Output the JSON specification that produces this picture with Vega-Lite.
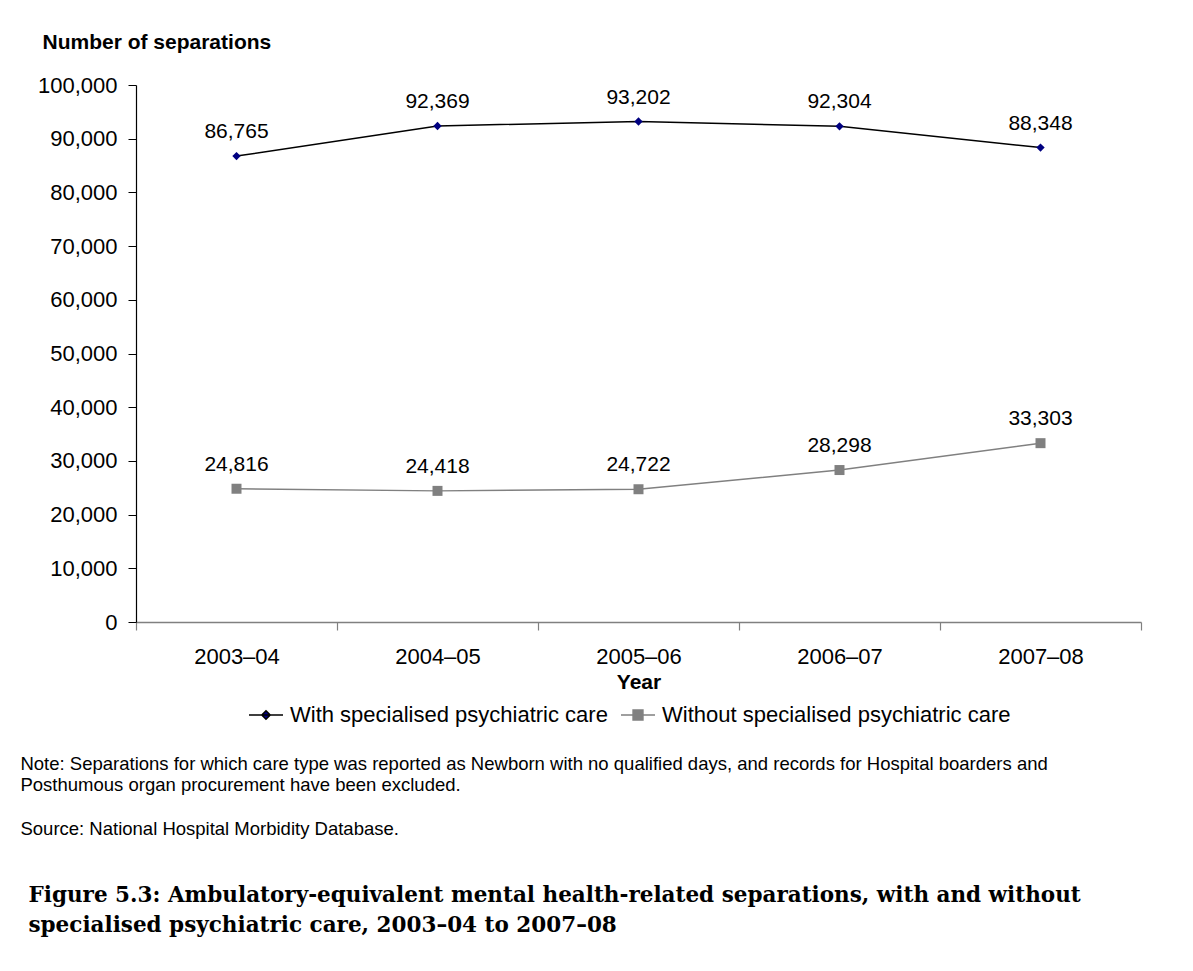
{
  "$schema": "https://vega.github.io/schema/vega-lite/v6.json",
  "padding": {"left": 20, "top": 31, "right": 10, "bottom": 10},
  "background": "white",
  "config": {
    "view": {"stroke": null},
    "font": "Liberation Sans",
    "axis": {"grid": false, "labelFont": "Liberation Sans", "titleFont": "Liberation Sans", "labelColor": "#000", "titleColor": "#000"}
  },
  "title": {
    "text": [
      "Figure 5.3: Ambulatory-equivalent mental health-related separations, with and without",
      "specialised psychiatric care, 2003–04 to 2007–08"
    ],
    "orient": "bottom",
    "anchor": "start",
    "frame": "bounds",
    "offset": 47,
    "dx": 8,
    "font": "DejaVu Serif",
    "fontSize": 21.5,
    "fontWeight": "bold",
    "lineHeight": 30,
    "color": "#000"
  },
  "vconcat": [
    {
      "width": 1005,
      "height": 537,
      "title": {
        "text": [
          "Note:  Separations for which care type was reported as Newborn with no qualified days, and records for Hospital boarders and",
          "Posthumous organ procurement have been excluded."
        ],
        "subtitle": "Source: National Hospital Morbidity Database.",
        "orient": "bottom",
        "anchor": "start",
        "frame": "bounds",
        "offset": 63,
        "dx": -17,
        "font": "Liberation Sans",
        "fontSize": 18.5,
        "fontWeight": "normal",
        "lineHeight": 21,
        "color": "#000",
        "subtitleFont": "Liberation Sans",
        "subtitleFontSize": 18.5,
        "subtitleColor": "#000",
        "subtitlePadding": 25
      },
      "data": {
        "values": [
          {"year": "2003–04", "series": "With specialised psychiatric care", "value": 86765},
          {"year": "2004–05", "series": "With specialised psychiatric care", "value": 92369},
          {"year": "2005–06", "series": "With specialised psychiatric care", "value": 93202},
          {"year": "2006–07", "series": "With specialised psychiatric care", "value": 92304},
          {"year": "2007–08", "series": "With specialised psychiatric care", "value": 88348},
          {"year": "2003–04", "series": "Without specialised psychiatric care", "value": 24816},
          {"year": "2004–05", "series": "Without specialised psychiatric care", "value": 24418},
          {"year": "2005–06", "series": "Without specialised psychiatric care", "value": 24722},
          {"year": "2006–07", "series": "Without specialised psychiatric care", "value": 28298},
          {"year": "2007–08", "series": "Without specialised psychiatric care", "value": 33303}
        ]
      },
      "encoding": {
        "x": {
          "field": "year",
          "type": "ordinal",
          "bandPosition": 0.5,
          "scale": {"type": "band", "paddingInner": 0, "paddingOuter": 0},
          "axis": {
            "title": "Year",
            "titleFontSize": 21,
            "titleFontWeight": "bold",
            "titlePadding": 4,
            "labelAngle": 0,
            "labelFontSize": 22,
            "labelPadding": 16,
            "tickBand": "extent",
            "tickSize": 8,
            "domainColor": "#808080",
            "tickColor": "#808080",
            "domainWidth": 1.5,
            "tickWidth": 1.2
          }
        },
        "y": {
          "field": "value",
          "type": "quantitative",
          "scale": {"domain": [0, 100000]},
          "axis": {
            "title": "Number of separations",
            "titleAngle": 0,
            "titleAlign": "left",
            "titleBaseline": "alphabetic",
            "titleX": -94,
            "titleY": -37,
            "titleFontSize": 21,
            "titleFontWeight": "bold",
            "labelFontSize": 22,
            "labelPadding": 11,
            "labelOverlap": false,
            "values": [0, 10000, 20000, 30000, 40000, 50000, 60000, 70000, 80000, 90000, 100000],
            "format": ",.0f",
            "tickSize": 8,
            "domainColor": "#000",
            "tickColor": "#000",
            "domainWidth": 1.2
          }
        }
      },
      "layer": [
        {
          "mark": {"type": "line", "strokeWidth": 1.5},
          "encoding": {
            "color": {
              "field": "series",
              "type": "nominal",
              "scale": {"range": ["#000000", "#808080"]},
              "legend": {
                "title": null,
                "orient": "none",
                "legendX": 112,
                "legendY": 612,
                "direction": "horizontal",
                "labelFontSize": 22,
                "labelFont": "Liberation Sans",
                "labelColor": "#000",
                "labelOffset": 6,
                "columnPadding": 10,
                "symbolSize": 1156,
                "symbolStrokeWidth": 1.5,
                "labelLimit": 600,
                "encode": {
                  "symbols": {
                    "update": {
                      "shape": {"signal": "datum.value === 'With specialised psychiatric care' ? 'M-1,0L1,0M0,-0.25L0.25,0L0,0.25L-0.25,0Z' : 'M-1,0L1,0M-0.29,-0.29L0.29,-0.29L0.29,0.29L-0.29,0.29Z'"},
                      "fill": {"signal": "datum.value === 'With specialised psychiatric care' ? '#000080' : '#808080'"}
                    }
                  }
                }
              }
            }
          }
        },
        {
          "mark": {"type": "point", "filled": true, "opacity": 1},
          "encoding": {
            "shape": {"field": "series", "type": "nominal", "scale": {"range": ["diamond", "square"]}, "legend": null},
            "fill": {"field": "series", "type": "nominal", "scale": {"range": ["#000080", "#808080"]}, "legend": null},
            "size": {"field": "series", "type": "nominal", "scale": {"range": [70, 100]}, "legend": null}
          }
        },
        {
          "mark": {"type": "text", "baseline": "alphabetic", "dy": -18, "fontSize": 21, "font": "Liberation Sans", "color": "#000"},
          "encoding": {
            "text": {"field": "value", "type": "quantitative", "format": ","}
          }
        }
      ]
    }
  ]
}
